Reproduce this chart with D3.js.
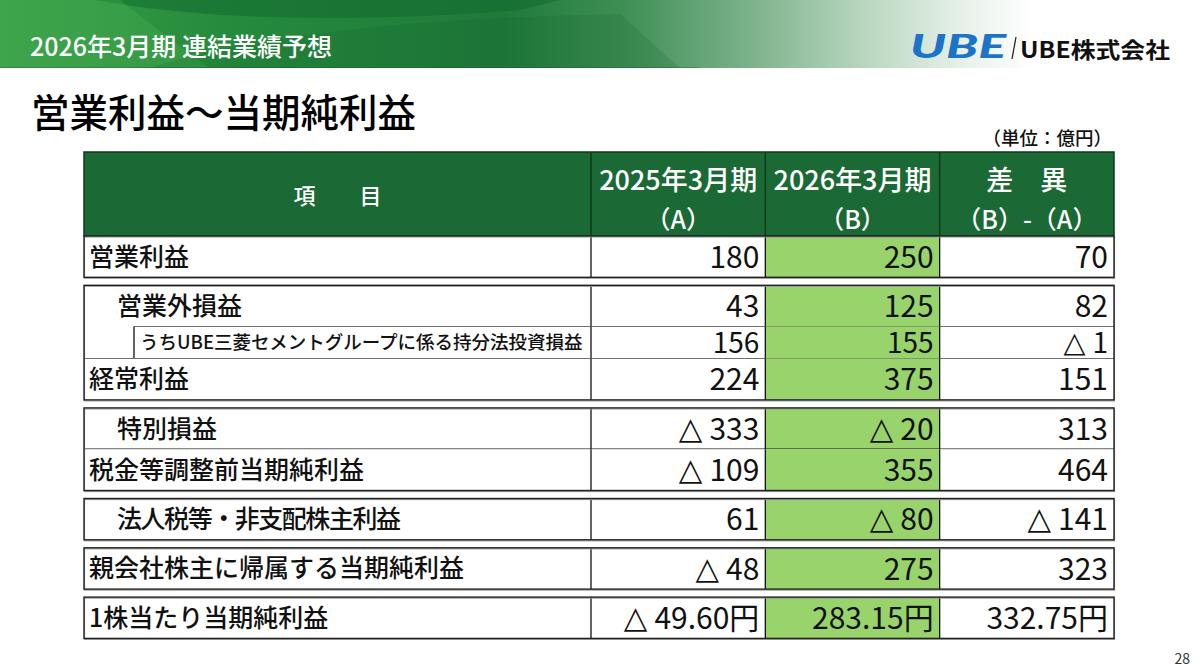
<!DOCTYPE html>
<html lang="ja">
<head>
<meta charset="utf-8">
<title>営業利益～当期純利益</title>
<script src="https://cdn.jsdelivr.net/npm/d3@7"></script>
<style>
  html, body { margin: 0; padding: 0; background: #fff; }
  svg { display: block; font-family: "Noto Sans CJK JP", "Noto Sans", sans-serif; }
</style>
</head>
<body>
<svg id="chart" width="1200" height="668"></svg>
<script>
// ---- data ----
const items = [
  "営業利益",
  "営業外損益",
  "うちUBE三菱セメントグループに係る持分法投資損益",
  "経常利益",
  "特別損益",
  "税金等調整前当期純利益",
  "法人税等・非支配株主利益",
  "親会社株主に帰属する当期純利益",
  "1株当たり当期純利益"
];
const rowKind = ["main", "indent", "note", "main", "indent", "main", "indent", "main", "main"];
const rowGroup = [0, 1, 1, 1, 2, 2, 3, 4, 5];
const fy2025 = [180, 43, 156, 224, -333, -109, 61, -48, -49.60];
const fy2026 = [250, 125, 155, 375, -20, 355, -80, 275, 283.15];
const diff   = [70, 82, -1, 151, 313, 464, -141, 323, 332.75];
const unitRow = [false, false, false, false, false, false, false, false, true];

const columns = ["a", "b", "d"];
const headLine1 = ["2025年3月期", "2026年3月期", "差　異"];
const headLine2 = ["（A）", "（B）", "（B）-（A）"];

// ---- layout ----
const svg = d3.select("#chart");
const W = 1200;
const tableLeft = 84, labelRight = 591, tableRight = 1114;
const headTop = 152, headH = 84;
const rowH = { main: 41.3, indent: 41.3, note: 32 };
const groupGap = 8;
const darkGreen = "#1b6a35";
const lightGreen = "#99d36b";
const ink = "#111";

const x = d3.scaleBand().domain(columns).range([labelRight, tableRight]).padding(0);

const rows = items.map((name, i) => ({
  name, kind: rowKind[i], group: rowGroup[i],
  vals: [fy2025[i], fy2026[i], diff[i]], yen: unitRow[i]
}));
let yCur = headTop + headH;
rows.forEach((r, i) => {
  if (i > 0 && r.group !== rows[i - 1].group) yCur += groupGap;
  r.y = yCur;
  r.h = rowH[r.kind];
  yCur += r.h;
});

const numText = (v, yen) => yen ? Math.abs(v).toFixed(2) + "円" : String(Math.abs(v));

// ---- banner ----
const defs = svg.append("defs");
const bg = defs.append("linearGradient").attr("id", "bannerGrad")
  .attr("x1", 0).attr("x2", 1).attr("y1", 0).attr("y2", 0);
[[0, "#37a046"], [0.2, "#258a3c"], [0.42, "#1f7a3a"], [0.52, "#3f8f55"],
 [0.62, "#79b088"], [0.72, "#b8d6bf"], [0.8, "#e6f0e8"], [0.86, "#ffffff"], [1, "#ffffff"]]
  .forEach(([o, c]) => bg.append("stop").attr("offset", o).attr("stop-color", c));

svg.append("rect").attr("x", 0).attr("y", 0).attr("width", W).attr("height", 68)
  .attr("fill", "url(#bannerGrad)");
svg.append("path")
  .attr("d", "M95,0 Q260,30 520,10 L560,0 Z")
  .attr("fill", "#136a2f").attr("opacity", 0.55);
svg.append("path")
  .attr("d", "M0,0 L120,0 Q170,40 210,68 L0,68 Z")
  .attr("fill", "#4cb055").attr("opacity", 0.35);
svg.append("path")
  .attr("d", "M150,68 Q300,20 620,14 L680,68 Z")
  .attr("fill", "#0f5e2a").attr("opacity", 0.18);
svg.append("line").attr("x1", 0).attr("x2", 700).attr("y1", 67.5).attr("y2", 67.5)
  .attr("stroke", "#1f5a30").attr("stroke-opacity", 0.35);

svg.append("text").attr("x", 30).attr("y", 56)
  .attr("fill", "#fff").attr("font-size", 25).attr("font-weight", 500)
  .text("2026年3月期 連結業績予想");

// logo
svg.append("text").attr("x", 910).attr("y", 58)
  .attr("fill", "#1c74c8").attr("font-size", 32).attr("font-weight", 900)
  .attr("font-family", "Lato, 'Liberation Sans', sans-serif")
  .attr("font-style", "italic")
  .attr("textLength", 96).attr("lengthAdjust", "spacingAndGlyphs")
  .text("UBE");
svg.append("line").attr("x1", 1016).attr("x2", 1012).attr("y1", 37).attr("y2", 59)
  .attr("stroke", "#222").attr("stroke-width", 1.3);
svg.append("text").attr("x", 1020).attr("y", 58)
  .attr("fill", "#111").attr("font-size", 22).attr("font-weight", 700)
  .attr("textLength", 150).attr("lengthAdjust", "spacingAndGlyphs")
  .text("UBE株式会社");

// title
svg.append("text").attr("x", 31).attr("y", 127)
  .attr("fill", "#000").attr("font-size", 38.5).attr("font-weight", 500)
  .text("営業利益～当期純利益");

svg.append("text").attr("x", 1112).attr("y", 145)
  .attr("text-anchor", "end").attr("fill", "#111").attr("font-size", 18.5)
  .attr("font-weight", 500)
  .text("（単位：億円）");

// ---- header ----
const head = svg.append("g");
head.append("rect").attr("x", tableLeft).attr("y", headTop)
  .attr("width", tableRight - tableLeft).attr("height", headH)
  .attr("fill", darkGreen).attr("stroke", "#0e3a1c").attr("stroke-width", 1.5);
columns.forEach(c => {
  head.append("line").attr("x1", x(c)).attr("x2", x(c))
    .attr("y1", headTop).attr("y2", headTop + headH)
    .attr("stroke", "#0e3a1c").attr("stroke-width", 1.5);
});
head.append("text").attr("x", (tableLeft + labelRight) / 2).attr("y", headTop + 52)
  .attr("text-anchor", "middle").attr("fill", "#fff").attr("font-size", 22)
  .attr("font-weight", 500)
  .text("項　　目");
head.selectAll(".h1").data(columns).join("text")
  .attr("x", c => x(c) + x.bandwidth() / 2).attr("y", headTop + 38)
  .attr("text-anchor", "middle").attr("fill", "#fff").attr("font-size", 27)
  .attr("font-weight", 500)
  .text((c, i) => headLine1[i]);
head.selectAll(".h2").data(columns).join("text")
  .attr("x", c => x(c) + x.bandwidth() / 2).attr("y", headTop + 77)
  .attr("text-anchor", "middle").attr("fill", "#fff").attr("font-size", 25)
  .attr("font-weight", 500)
  .text((c, i) => headLine2[i]);

// ---- body ----
const body = svg.append("g");
rows.forEach((r, i) => {
  const g = body.append("g");
  g.append("rect").attr("x", tableLeft).attr("y", r.y)
    .attr("width", tableRight - tableLeft).attr("height", r.h).attr("fill", "#fff");
  g.append("rect").attr("x", x("b")).attr("y", r.y)
    .attr("width", x.bandwidth()).attr("height", r.h).attr("fill", lightGreen);

  const labelX = r.kind === "main" ? 89 : r.kind === "indent" ? 117 : 140;
  const mid = r.y + r.h / 2;
  const lab = g.append("text")
    .attr("x", labelX).attr("y", mid)
    .attr("dy", "0.36em")
    .attr("fill", ink)
    .attr("font-size", r.kind === "note" ? 18.5 : 25)
    .attr("font-weight", 500)
    .text(r.name);
  // the middle dot is narrow in the slide font: tighten the line a little
  if (r.name.includes("・")) {
    const len = lab.node().getComputedTextLength();
    lab.attr("textLength", len - 16).attr("lengthAdjust", "spacing");
  }

  const fs = r.kind === "note" ? 28 : 30;
  const t = g.selectAll(".v").data(columns).join("text")
    .attr("x", c => x(c) + x.bandwidth() - 6)
    .attr("y", mid + fs * 0.37)
    .attr("text-anchor", "end").attr("fill", ink)
    .attr("font-size", fs);
  t.each(function (c, k) {
    const v = r.vals[k];
    const el = d3.select(this);
    if (v < 0) {
      el.append("tspan")
        .attr("font-family", "'DejaVu Sans', sans-serif")
        .attr("font-size", "1.02em")
        .attr("dy", -1)
        .text("△");
      el.append("tspan").attr("dx", 7).attr("dy", 1).text(numText(v, r.yen));
    } else {
      el.text(numText(v, r.yen));
    }
  });

  columns.forEach(c => {
    g.append("line").attr("x1", x(c)).attr("x2", x(c))
      .attr("y1", r.y).attr("y2", r.y + r.h)
      .attr("stroke", ink).attr("stroke-width", 1.3);
  });

  const next = rows[i + 1];
  if (next && next.group === r.group) {
    const lx = next.kind === "note" ? 134 : tableLeft;
    g.append("line").attr("x1", lx).attr("x2", tableRight)
      .attr("y1", r.y + r.h).attr("y2", r.y + r.h)
      .attr("stroke", ink).attr("stroke-width", 1.3);
  }
  if (r.kind === "note") {
    g.append("line").attr("x1", 134).attr("x2", 134)
      .attr("y1", r.y).attr("y2", r.y + r.h)
      .attr("stroke", ink).attr("stroke-width", 1.3);
  }
});

// group outlines
d3.groups(rows, r => r.group).forEach(([k, rs]) => {
  const top = rs[0].y, bot = rs[rs.length - 1].y + rs[rs.length - 1].h;
  body.append("rect").attr("x", tableLeft + 0.5).attr("y", top + 1)
    .attr("width", tableRight - tableLeft).attr("height", bot - top)
    .attr("fill", "none").attr("stroke", "#999").attr("stroke-width", 1.2);
  body.append("rect").attr("x", tableLeft).attr("y", top)
    .attr("width", tableRight - tableLeft).attr("height", bot - top)
    .attr("fill", "none").attr("stroke", "#222").attr("stroke-width", 1.4);
});

// page number
svg.append("text").attr("x", 1190).attr("y", 664)
  .attr("text-anchor", "end").attr("fill", "#333").attr("font-size", 14)
  .text("28");
</script>
</body>
</html>
